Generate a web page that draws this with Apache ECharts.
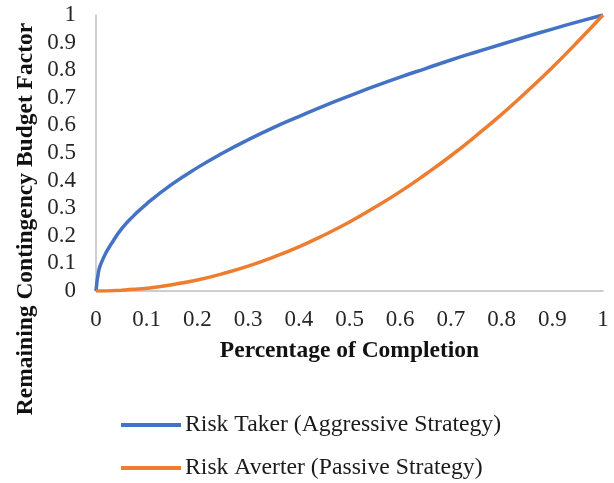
<!DOCTYPE html>
<html><head><meta charset="utf-8">
<script src="https://cdn.jsdelivr.net/npm/echarts@6/dist/echarts.min.js"></script>
<style>html,body{margin:0;padding:0;background:#fff}#c{width:614px;height:483px}</style>
</head><body><div id="c"></div>
<script>
const xValues = [0, 0.005, 0.01, 0.02, 0.03, 0.05, 0.075, 0.1, 0.15, 0.2, 0.25, 0.3, 0.35, 0.4, 0.45, 0.5, 0.55, 0.6, 0.65, 0.7, 0.75, 0.8, 0.85, 0.9, 0.95, 1];
const riskTaker = [0, 0.07, 0.1, 0.14, 0.17, 0.224, 0.274, 0.316, 0.387, 0.447, 0.5, 0.548, 0.592, 0.632, 0.671, 0.707, 0.742, 0.775, 0.806, 0.837, 0.866, 0.894, 0.922, 0.949, 0.975, 1];
const riskAverter = [0, 0, 0, 0, 0.001, 0.003, 0.006, 0.01, 0.023, 0.04, 0.063, 0.09, 0.123, 0.16, 0.203, 0.25, 0.303, 0.36, 0.423, 0.49, 0.563, 0.64, 0.723, 0.81, 0.903, 1];
const seriesNames = ['Risk Taker (Aggressive Strategy)', 'Risk Averter (Passive Strategy)'];
const xTitle = 'Percentage of Completion';
const yTitle = 'Remaining Contingency Budget Factor';

const font = 'Liberation Serif, Times New Roman, serif';
const chart = echarts.init(document.getElementById('c'));
const fmt = v => String(Math.round(v * 10) / 10);
const legendBase = {
  orient: 'vertical', left: 121, padding: 0,
  itemWidth: 60, itemHeight: 4, icon: 'rect',
  textStyle: { fontFamily: font, fontSize: 23.7, color: '#1a1a1a', padding: [0, 0, 0, -1] }
};
chart.setOption({
  animation: false,
  grid: { left: 96, right: 11, top: 15, bottom: 192 },
  xAxis: {
    type: 'value', min: 0, max: 1, interval: 0.1,
    axisLine: { show: true, lineStyle: { color: '#bfbfbf', width: 1.5 } },
    axisTick: { show: false }, splitLine: { show: false },
    axisLabel: { formatter: fmt, fontFamily: font, fontSize: 23, color: '#262626', margin: 17 },
    name: xTitle, nameLocation: 'middle', nameGap: 48,
    nameTextStyle: { fontFamily: font, fontSize: 23.5, fontWeight: 'bold', color: '#111' }
  },
  yAxis: {
    type: 'value', min: 0, max: 1, interval: 0.1,
    axisLine: { show: true, lineStyle: { color: '#bfbfbf', width: 1.5 } },
    axisTick: { show: false }, splitLine: { show: false },
    axisLabel: { formatter: fmt, fontFamily: font, fontSize: 23, color: '#262626', margin: 20 }
  },
  graphic: [{
    type: 'text', x: 26, y: 219, rotation: Math.PI / 2,
    style: { text: yTitle, font: 'bold 23.5px ' + font, fill: '#111', align: 'center', verticalAlign: 'middle' }
  }],
  legend: [
    Object.assign({}, legendBase, { top: 413, data: [seriesNames[0]] }),
    Object.assign({}, legendBase, { top: 456, data: [seriesNames[1]] })
  ],
  series: [
    { name: seriesNames[0], type: 'line', smooth: true, showSymbol: false,
      data: xValues.map((x, i) => [x, riskTaker[i]]),
      lineStyle: { color: '#4472C4', width: 3.5 }, itemStyle: { color: '#4472C4' } },
    { name: seriesNames[1], type: 'line', smooth: true, showSymbol: false,
      data: xValues.map((x, i) => [x, riskAverter[i]]),
      lineStyle: { color: '#ED7D31', width: 3.5 }, itemStyle: { color: '#ED7D31' } }
  ]
});
</script></body></html>
